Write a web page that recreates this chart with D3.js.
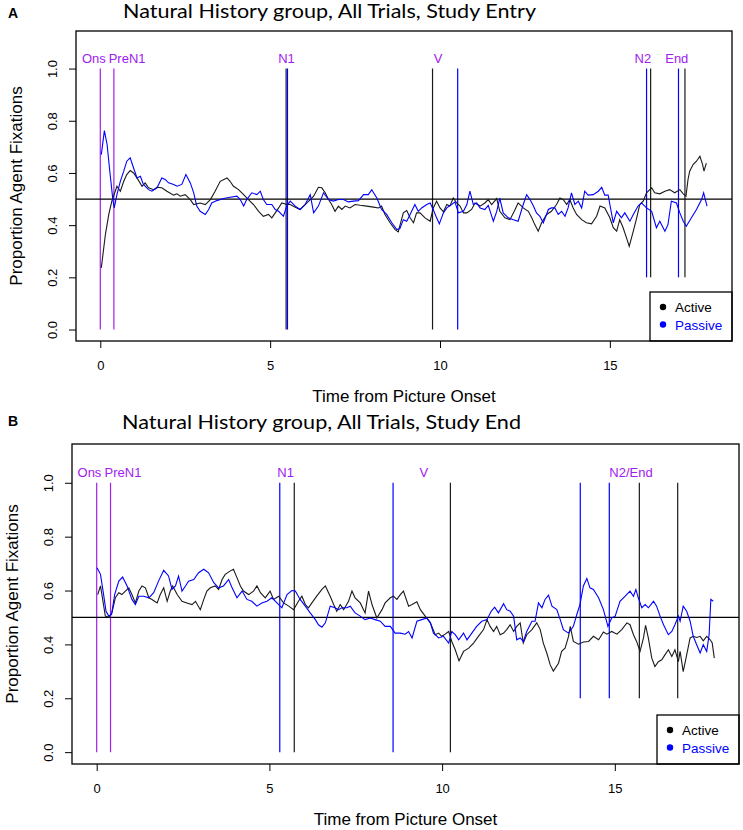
<!DOCTYPE html>
<html>
<head>
<meta charset="utf-8">
<script src="https://cdn.jsdelivr.net/npm/d3@7"></script>
<style>
  body { margin: 0; background: #fff; }
  text { font-family: "Liberation Sans", Arial, sans-serif; }
  .title { font-family: Lato, "Open Sans", sans-serif; font-size: 19px; fill: #000; }
  .panelLetter { font-size: 14px; font-weight: bold; }
  .axisTitle { font-size: 17px; }
  .tick text { font-size: 13px; fill: #000; font-family: "Liberation Sans", Arial, sans-serif; }
  .tick line { stroke: #000; }
  .eventLabel { font-size: 13px; fill: #A020F0; text-anchor: middle; }
  .legendText { font-size: 13.5px; }
</style>
</head>
<body>
<script>
// *************************************************** //
// chart data

// shared tick values
var xTicks = [0, 5, 10, 15];
var yTicks = [0, 0.2, 0.4, 0.6, 0.8, 1.0];
// onset / pre-noun markers (purple, both panels)
var onsetMarks = [0, 0.40];

// Panel A: Study Entry
var entryActiveTime = [0.03,0.15,0.25,0.34,0.44,0.49,0.59,0.69,0.78,0.88,0.98,1.08,1.23,1.32,1.42,1.57,1.67,1.81,1.96,2.16,2.26,2.35,2.50,2.65,2.75,2.94,3.09,3.24,3.38,3.53,3.73,3.82,3.92,4.07,4.22,4.36,4.51,4.66,4.80,4.95,5.05,5.15,5.25,5.34,5.49,5.59,5.74,5.88,6.03,6.18,6.28,6.42,6.52,6.62,6.72,6.81,6.91,7.01,7.11,7.21,7.35,7.50,7.65,7.84,8.04,8.19,8.28,8.38,8.53,8.68,8.77,
  8.92,9.02,9.12,9.22,9.31,9.41,9.56,9.71,9.80,9.90,10.0,10.10,10.20,10.29,10.39,10.49,10.59,10.69,10.79,10.93,11.03,11.18,11.32,11.42,11.52,11.67,11.76,11.91,12.06,12.21,12.30,12.45,12.60,12.70,12.79,12.89,12.99,13.14,13.28,13.43,13.53,13.63,13.73,13.82,13.92,14.02,14.17,14.31,14.46,14.61,14.71,14.85,15.0,15.10,15.20,15.29,15.39,15.49,15.57,15.69,15.79,15.88,15.98,16.08,16.23,16.32,16.47,16.62,16.76,16.91,17.06,17.16,17.24,17.30,17.35,17.45,17.55,17.65,17.73,17.77,17.84];
var entryActiveProp = [0.236,0.364,0.441,0.492,0.530,0.549,0.530,0.568,0.594,0.609,0.600,0.581,0.549,0.562,0.543,0.536,0.545,0.543,0.530,0.515,0.520,0.511,0.517,0.498,0.479,0.485,0.479,0.498,0.530,0.568,0.581,0.568,0.549,0.536,0.517,0.498,0.479,0.453,0.434,0.441,0.428,0.447,0.466,0.485,0.479,0.479,0.469,0.460,0.479,0.498,0.511,0.545,0.543,0.524,0.498,0.479,0.453,0.473,0.460,0.473,0.466,0.479,0.476,0.473,0.469,0.466,0.473,0.441,0.409,0.383,0.374,
  0.447,0.456,0.428,0.409,0.447,0.447,0.428,0.415,0.466,0.492,0.466,0.451,0.479,0.473,0.504,0.485,0.473,0.447,0.447,0.460,0.485,0.473,0.485,0.498,0.479,0.502,0.453,0.428,0.421,0.460,0.485,0.466,0.453,0.428,0.402,0.377,0.409,0.441,0.453,0.479,0.504,0.498,0.479,0.498,0.466,0.441,0.421,0.409,0.405,0.434,0.473,0.466,0.428,0.390,0.377,0.421,0.390,0.351,0.319,0.377,0.428,0.479,0.492,0.524,0.543,0.524,0.520,0.530,0.536,0.524,0.536,0.520,0.511,0.575,0.607,0.632,0.645,0.664,0.632,0.607,0.638];
var entryPassiveTime = [0.03,0.12,0.20,0.29,0.37,0.41,0.49,0.59,0.69,0.78,0.88,0.98,1.08,1.18,1.27,1.42,1.52,1.67,1.81,1.91,2.01,2.16,2.26,2.40,2.52,2.65,2.75,2.84,2.94,3.09,3.19,3.28,3.43,3.63,3.82,4.02,4.12,4.22,4.31,4.46,4.61,4.71,4.80,4.90,5.05,5.15,5.25,5.39,5.49,5.59,5.74,5.88,6.03,6.18,6.28,6.42,6.57,6.72,6.86,7.01,7.16,7.30,7.45,7.60,7.75,7.89,7.99,8.14,8.28,8.43,8.58,8.73,8.82,
  8.92,9.02,9.12,9.26,9.36,9.46,9.61,9.71,9.80,9.90,9.98,10.10,10.20,10.34,10.44,10.54,10.69,10.79,10.88,10.98,11.08,11.18,11.32,11.42,11.57,11.67,11.76,11.86,12.01,12.16,12.30,12.45,12.55,12.65,12.75,12.84,12.94,13.04,13.19,13.28,13.38,13.48,13.58,13.68,13.77,13.87,13.97,14.07,14.17,14.26,14.36,14.51,14.66,14.76,14.85,14.95,15.0,15.10,15.20,15.34,15.44,15.59,15.69,15.83,15.93,16.08,16.23,16.37,16.47,16.62,16.71,16.81,16.96,17.06,17.16,17.25,17.40,17.55,17.70,17.76,17.86];
var entryPassiveProp = [0.670,0.762,0.709,0.594,0.498,0.466,0.517,0.568,0.607,0.645,0.658,0.619,0.581,0.587,0.556,0.536,0.530,0.543,0.581,0.575,0.562,0.556,0.549,0.556,0.594,0.562,0.524,0.473,0.453,0.441,0.460,0.485,0.494,0.502,0.507,0.511,0.498,0.473,0.498,0.524,0.517,0.530,0.498,0.479,0.479,0.460,0.453,0.434,0.473,0.492,0.473,0.460,0.479,0.517,0.447,0.473,0.524,0.498,0.492,0.498,0.498,0.489,0.492,0.494,0.517,0.517,0.536,0.504,0.460,0.441,0.409,0.383,0.387,
  0.421,0.415,0.441,0.479,0.453,0.466,0.479,0.485,0.460,0.428,0.405,0.447,0.466,0.479,0.489,0.447,0.453,0.479,0.530,0.479,0.485,0.466,0.460,0.476,0.415,0.453,0.504,0.447,0.428,0.421,0.415,0.479,0.517,0.498,0.473,0.447,0.434,0.409,0.460,0.466,0.466,0.441,0.453,0.434,0.466,0.524,0.479,0.492,0.466,0.530,0.515,0.517,0.530,0.545,0.515,0.515,0.479,0.409,0.453,0.428,0.447,0.415,0.441,0.473,0.485,0.466,0.453,0.390,0.415,0.377,0.402,0.492,0.485,0.447,0.415,0.396,0.428,0.460,0.498,0.524,0.473];
// event markers for each condition, with lower ends of the lines
var entryActiveMarks = [5.47, 9.78, 16.20, 17.21];
var entryActiveMarkLows = [0, 0, 0.2, 0.2];
var entryPassiveMarks = [5.51, 10.52, 16.08, 17.02];
var entryPassiveMarkLows = [0, 0, 0.2, 0.2];
var entryLabels = ["Ons", "PreN1", "N1", "V", "N2", "End"];
var entryLabelTimes = [-0.19, 0.79, 5.48, 9.94, 15.97, 16.97];

// Panel B: Study End
var endActiveTime = [0.03,0.11,0.25,0.35,0.44,0.54,0.64,0.73,0.83,0.93,1.02,1.12,1.22,1.31,1.41,1.51,1.60,1.75,1.84,1.94,2.04,2.13,2.20,2.33,2.47,2.61,2.76,2.86,3.00,3.10,3.19,3.29,3.43,3.53,3.63,3.72,3.87,3.96,4.06,4.16,4.25,4.40,4.54,4.64,4.74,4.88,5.02,5.12,5.27,5.41,5.56,5.70,5.84,5.94,6.04,6.13,6.23,6.37,6.52,6.62,6.76,6.86,6.95,7.05,7.15,7.29,7.39,7.48,7.63,7.77,7.87,7.97,8.11,8.26,8.35,8.50,8.59,8.69,8.79,8.88,
  9.03,9.13,9.27,9.37,9.51,9.66,9.80,9.90,9.99,10.09,10.19,10.28,10.38,10.49,10.62,10.77,10.91,11.05,11.20,11.30,11.39,11.49,11.58,11.68,11.78,11.87,11.97,12.07,12.16,12.26,12.35,12.45,12.60,12.74,12.84,12.93,13.03,13.13,13.22,13.37,13.46,13.56,13.66,13.71,13.80,13.95,14.09,14.24,14.38,14.53,14.67,14.77,14.91,15.06,15.20,15.35,15.44,15.54,15.63,15.73,15.83,15.89,15.97,16.07,16.16,16.26,16.36,16.45,16.55,16.65,16.74,16.84,16.89,16.98,17.08,17.18,17.27,17.37,17.47,17.56,17.66,17.76,17.82,17.88];
var endActiveProp = [0.585,0.617,0.505,0.501,0.517,0.573,0.592,0.585,0.598,0.610,0.585,0.554,0.598,0.617,0.610,0.573,0.567,0.554,0.585,0.610,0.560,0.598,0.617,0.585,0.560,0.554,0.548,0.560,0.529,0.567,0.598,0.610,0.617,0.604,0.641,0.660,0.673,0.679,0.648,0.617,0.598,0.585,0.598,0.617,0.592,0.573,0.598,0.567,0.579,0.554,0.542,0.529,0.560,0.579,0.548,0.536,0.554,0.579,0.604,0.617,0.579,0.548,0.523,0.548,0.529,0.560,0.598,0.573,0.554,0.517,0.598,0.548,0.498,0.529,0.554,0.573,0.579,0.567,0.585,0.598,
  0.542,0.548,0.558,0.529,0.505,0.480,0.436,0.442,0.430,0.438,0.448,0.411,0.380,0.339,0.374,0.386,0.405,0.430,0.455,0.492,0.467,0.448,0.467,0.436,0.442,0.455,0.473,0.448,0.467,0.480,0.405,0.436,0.455,0.480,0.455,0.405,0.368,0.324,0.301,0.330,0.374,0.386,0.430,0.467,0.411,0.401,0.409,0.411,0.430,0.417,0.446,0.438,0.448,0.438,0.455,0.480,0.473,0.436,0.411,0.374,0.424,0.471,0.424,0.349,0.318,0.336,0.343,0.361,0.380,0.355,0.380,0.336,0.374,0.299,0.361,0.424,0.430,0.426,0.430,0.413,0.430,0.417,0.405,0.349];
var endPassiveTime = [0.01,0.11,0.20,0.27,0.35,0.43,0.52,0.64,0.75,0.88,1.02,1.12,1.22,1.36,1.51,1.65,1.79,1.94,2.08,2.18,2.28,2.37,2.47,2.57,2.66,2.81,2.95,3.10,3.24,3.39,3.53,3.67,3.82,3.92,4.06,4.21,4.35,4.49,4.64,4.78,4.93,5.07,5.22,5.36,5.51,5.65,5.75,5.89,6.04,6.18,6.33,6.42,6.52,6.62,6.76,6.90,7.00,7.10,7.24,7.34,7.48,7.63,7.77,7.92,8.06,8.21,8.35,8.50,8.64,8.79,8.93,
  9.03,9.13,9.27,9.41,9.56,9.66,9.75,9.90,10.04,10.19,10.28,10.38,10.48,10.62,10.72,10.86,11.00,11.15,11.30,11.42,11.52,11.63,11.78,11.87,11.97,12.07,12.16,12.26,12.35,12.45,12.60,12.69,12.79,12.89,12.98,13.08,13.18,13.32,13.42,13.51,13.66,13.80,13.90,13.99,14.09,14.19,14.28,14.38,14.53,14.67,14.80,14.91,15.01,15.15,15.30,15.44,15.54,15.61,15.68,15.78,15.88,15.97,16.12,16.21,16.31,16.41,16.55,16.65,16.74,16.84,16.89,16.98,17.08,17.18,17.27,17.37,17.47,17.56,17.66,17.73,17.78,17.85];
var endPassiveProp = [0.685,0.660,0.585,0.523,0.505,0.511,0.585,0.635,0.650,0.617,0.567,0.548,0.579,0.579,0.573,0.592,0.635,0.675,0.654,0.604,0.617,0.654,0.598,0.617,0.635,0.641,0.666,0.679,0.666,0.629,0.610,0.617,0.641,0.610,0.573,0.598,0.567,0.560,0.542,0.554,0.560,0.573,0.554,0.536,0.585,0.600,0.598,0.567,0.542,0.517,0.492,0.473,0.464,0.480,0.542,0.536,0.529,0.536,0.536,0.542,0.517,0.505,0.492,0.498,0.492,0.486,0.467,0.467,0.442,0.442,0.438,
  0.448,0.424,0.486,0.492,0.498,0.480,0.442,0.424,0.430,0.405,0.448,0.436,0.417,0.442,0.417,0.442,0.467,0.486,0.492,0.523,0.538,0.517,0.551,0.529,0.523,0.505,0.417,0.424,0.411,0.448,0.486,0.486,0.554,0.536,0.567,0.583,0.542,0.529,0.492,0.455,0.442,0.467,0.511,0.548,0.617,0.645,0.610,0.604,0.573,0.529,0.467,0.498,0.505,0.560,0.579,0.598,0.579,0.604,0.573,0.536,0.548,0.536,0.560,0.542,0.505,0.473,0.436,0.448,0.473,0.505,0.486,0.542,0.523,0.486,0.430,0.399,0.368,0.399,0.374,0.436,0.567,0.560];
var endActiveMarks = [5.72, 10.24, 15.71, 16.82];
var endActiveMarkLows = [0, 0, 0.2, 0.2];
var endPassiveMarks = [5.30, 8.58, 14.00, 14.84];
var endPassiveMarkLows = [0, 0, 0.2, 0.2];
var endLabels = ["Ons", "PreN1", "N1", "V", "N2/End"];
var endLabelTimes = [-0.21, 0.76, 5.47, 9.47, 15.47];

var legendNames = ["Active", "Passive"];

(function(){
  // *************************************************** //
  // pseudo-global settings
  var width = 743,
      height = 830;
  var activeColor = "#1a1a1a",
      passiveColor = "#0000ff",
      eventColor = "#A020F0";

  window.onload = setChart();

  // *************************************************** //
  function setChart(){
    var svg = d3.select("body")
      .append("svg")
      .attr("width", width)
      .attr("height", height);

    svg.append("rect")
      .attr("width", width)
      .attr("height", height)
      .attr("fill", "#fff");

    // top panel
    drawPanel(svg, {
      letter: "A", letterY: 18,
      title: "Natural History group, All Trials, Study Entry",
      titleX: 123, titleY: 18, titleLen: 413,
      left: 76, top: 31, right: 732, bottom: 341,
      activeTime: entryActiveTime, activeProp: entryActiveProp,
      passiveTime: entryPassiveTime, passiveProp: entryPassiveProp,
      activeMarks: entryActiveMarks, activeLows: entryActiveMarkLows,
      passiveMarks: entryPassiveMarks, passiveLows: entryPassiveMarkLows,
      labels: entryLabels, labelTimes: entryLabelTimes
    });

    // bottom panel
    drawPanel(svg, {
      letter: "B", letterY: 426,
      title: "Natural History group, All Trials, Study End",
      titleX: 122, titleY: 429, titleLen: 399,
      left: 72, top: 444, right: 739, bottom: 764,
      activeTime: endActiveTime, activeProp: endActiveProp,
      passiveTime: endPassiveTime, passiveProp: endPassiveProp,
      activeMarks: endActiveMarks, activeLows: endActiveMarkLows,
      passiveMarks: endPassiveMarks, passiveLows: endPassiveMarkLows,
      labels: endLabels, labelTimes: endLabelTimes
    });
  };

  // *************************************************** //
  function drawPanel(svg, p){
    // R-style axis ranges: data range padded by 4%
    var x = d3.scaleLinear()
      .domain([-0.715, 18.595])
      .range([p.left, p.right]);
    var y = d3.scaleLinear()
      .domain([-0.044, 1.144])
      .range([p.bottom, p.top]);

    var g = svg.append("g");

    // panel letter and title
    g.append("text")
      .attr("class", "panelLetter")
      .attr("x", 8)
      .attr("y", p.letterY)
      .text(p.letter);

    g.append("text")
      .attr("class", "title")
      .attr("x", p.titleX)
      .attr("y", p.titleY)
      .attr("textLength", p.titleLen)
      .attr("lengthAdjust", "spacingAndGlyphs")
      .text(p.title);

    // purple onset markers
    g.selectAll(".onset")
      .data(onsetMarks)
      .enter()
      .append("line")
      .attr("class", "onset")
      .attr("x1", function(d){ return x(d); })
      .attr("x2", function(d){ return x(d); })
      .attr("y1", y(0))
      .attr("y2", y(1))
      .attr("stroke", eventColor)
      .attr("stroke-width", 1.2);

    // event markers per condition
    addMarks(g, x, y, p.activeMarks, p.activeLows, activeColor);
    addMarks(g, x, y, p.passiveMarks, p.passiveLows, passiveColor);

    // chance line
    g.append("line")
      .attr("x1", p.left)
      .attr("x2", p.right)
      .attr("y1", y(0.5))
      .attr("y2", y(0.5))
      .attr("stroke", "#000")
      .attr("stroke-width", 1.3);

    // series lines
    var line = d3.line()
      .x(function(d){ return x(d[0]); })
      .y(function(d){ return y(d[1]); });

    g.append("path")
      .datum(d3.zip(p.activeTime, p.activeProp))
      .attr("fill", "none")
      .attr("stroke", activeColor)
      .attr("stroke-width", 1.1)
      .attr("d", line);

    g.append("path")
      .datum(d3.zip(p.passiveTime, p.passiveProp))
      .attr("fill", "none")
      .attr("stroke", passiveColor)
      .attr("stroke-width", 1.1)
      .attr("d", line);

    // event labels
    g.selectAll(".eventLabel")
      .data(d3.zip(p.labels, p.labelTimes))
      .enter()
      .append("text")
      .attr("class", "eventLabel")
      .attr("x", function(d){ return x(d[1]); })
      .attr("y", y(1.02))
      .text(function(d){ return d[0]; });

    // axes
    var xAxis = g.append("g")
      .attr("transform", "translate(0," + p.bottom + ")")
      .call(d3.axisBottom(x).tickValues(xTicks).tickSize(7).tickFormat(d3.format("d")));
    xAxis.select(".domain").remove();
    xAxis.selectAll(".tick text").attr("y", 29).attr("dy", 0);

    var yAxis = g.append("g")
      .attr("transform", "translate(" + p.left + ",0)")
      .call(d3.axisLeft(y).tickValues(yTicks).tickSize(7).tickFormat(d3.format(".1f")));
    yAxis.select(".domain").remove();
    yAxis.selectAll(".tick text")
      .attr("x", 0)
      .attr("dy", 0)
      .attr("text-anchor", "middle")
      .attr("transform", "translate(-19.5,0) rotate(-90)");

    // axis titles
    g.append("text")
      .attr("class", "axisTitle")
      .attr("x", (p.left + p.right) / 2)
      .attr("y", p.bottom + 61)
      .attr("text-anchor", "middle")
      .text("Time from Picture Onset");

    g.append("text")
      .attr("class", "axisTitle")
      .attr("text-anchor", "middle")
      .attr("transform", "translate(" + (p.left - 54.5) + "," + ((p.top + p.bottom) / 2) + ") rotate(-90)")
      .text("Proportion Agent Fixations");

    // legend box in the bottom right corner
    var lw = 82, lh = 49;
    var legend = g.append("g")
      .attr("transform", "translate(" + (p.right - lw) + "," + (p.bottom - lh) + ")");
    legend.append("rect")
      .attr("width", lw)
      .attr("height", lh)
      .attr("fill", "#fff")
      .attr("stroke", "#000")
      .attr("stroke-width", 1.3);
    var items = legend.selectAll(".legendItem")
      .data(legendNames)
      .enter()
      .append("g")
      .attr("class", "legendItem")
      .attr("transform", function(d, i){ return "translate(0," + (15 + i * 17.5) + ")"; });
    items.append("circle")
      .attr("cx", 13)
      .attr("r", 3.2)
      .attr("fill", function(d, i){ return i == 0 ? "#000" : passiveColor; });
    items.append("text")
      .attr("class", "legendText")
      .attr("x", 25)
      .attr("y", 5)
      .attr("fill", function(d, i){ return i == 0 ? "#000" : passiveColor; })
      .text(function(d){ return d; });

    // plot frame
    g.append("rect")
      .attr("x", p.left)
      .attr("y", p.top)
      .attr("width", p.right - p.left)
      .attr("height", p.bottom - p.top)
      .attr("fill", "none")
      .attr("stroke", "#000")
      .attr("stroke-width", 1.3);
  };

  // *************************************************** //
  function addMarks(g, x, y, marks, lows, color){
    g.selectAll(null)
      .data(d3.zip(marks, lows))
      .enter()
      .append("line")
      .attr("x1", function(d){ return x(d[0]); })
      .attr("x2", function(d){ return x(d[0]); })
      .attr("y1", function(d){ return y(d[1]); })
      .attr("y2", y(1))
      .attr("stroke", color)
      .attr("stroke-width", 1.2);
  };

})();
</script>
</body>
</html>
